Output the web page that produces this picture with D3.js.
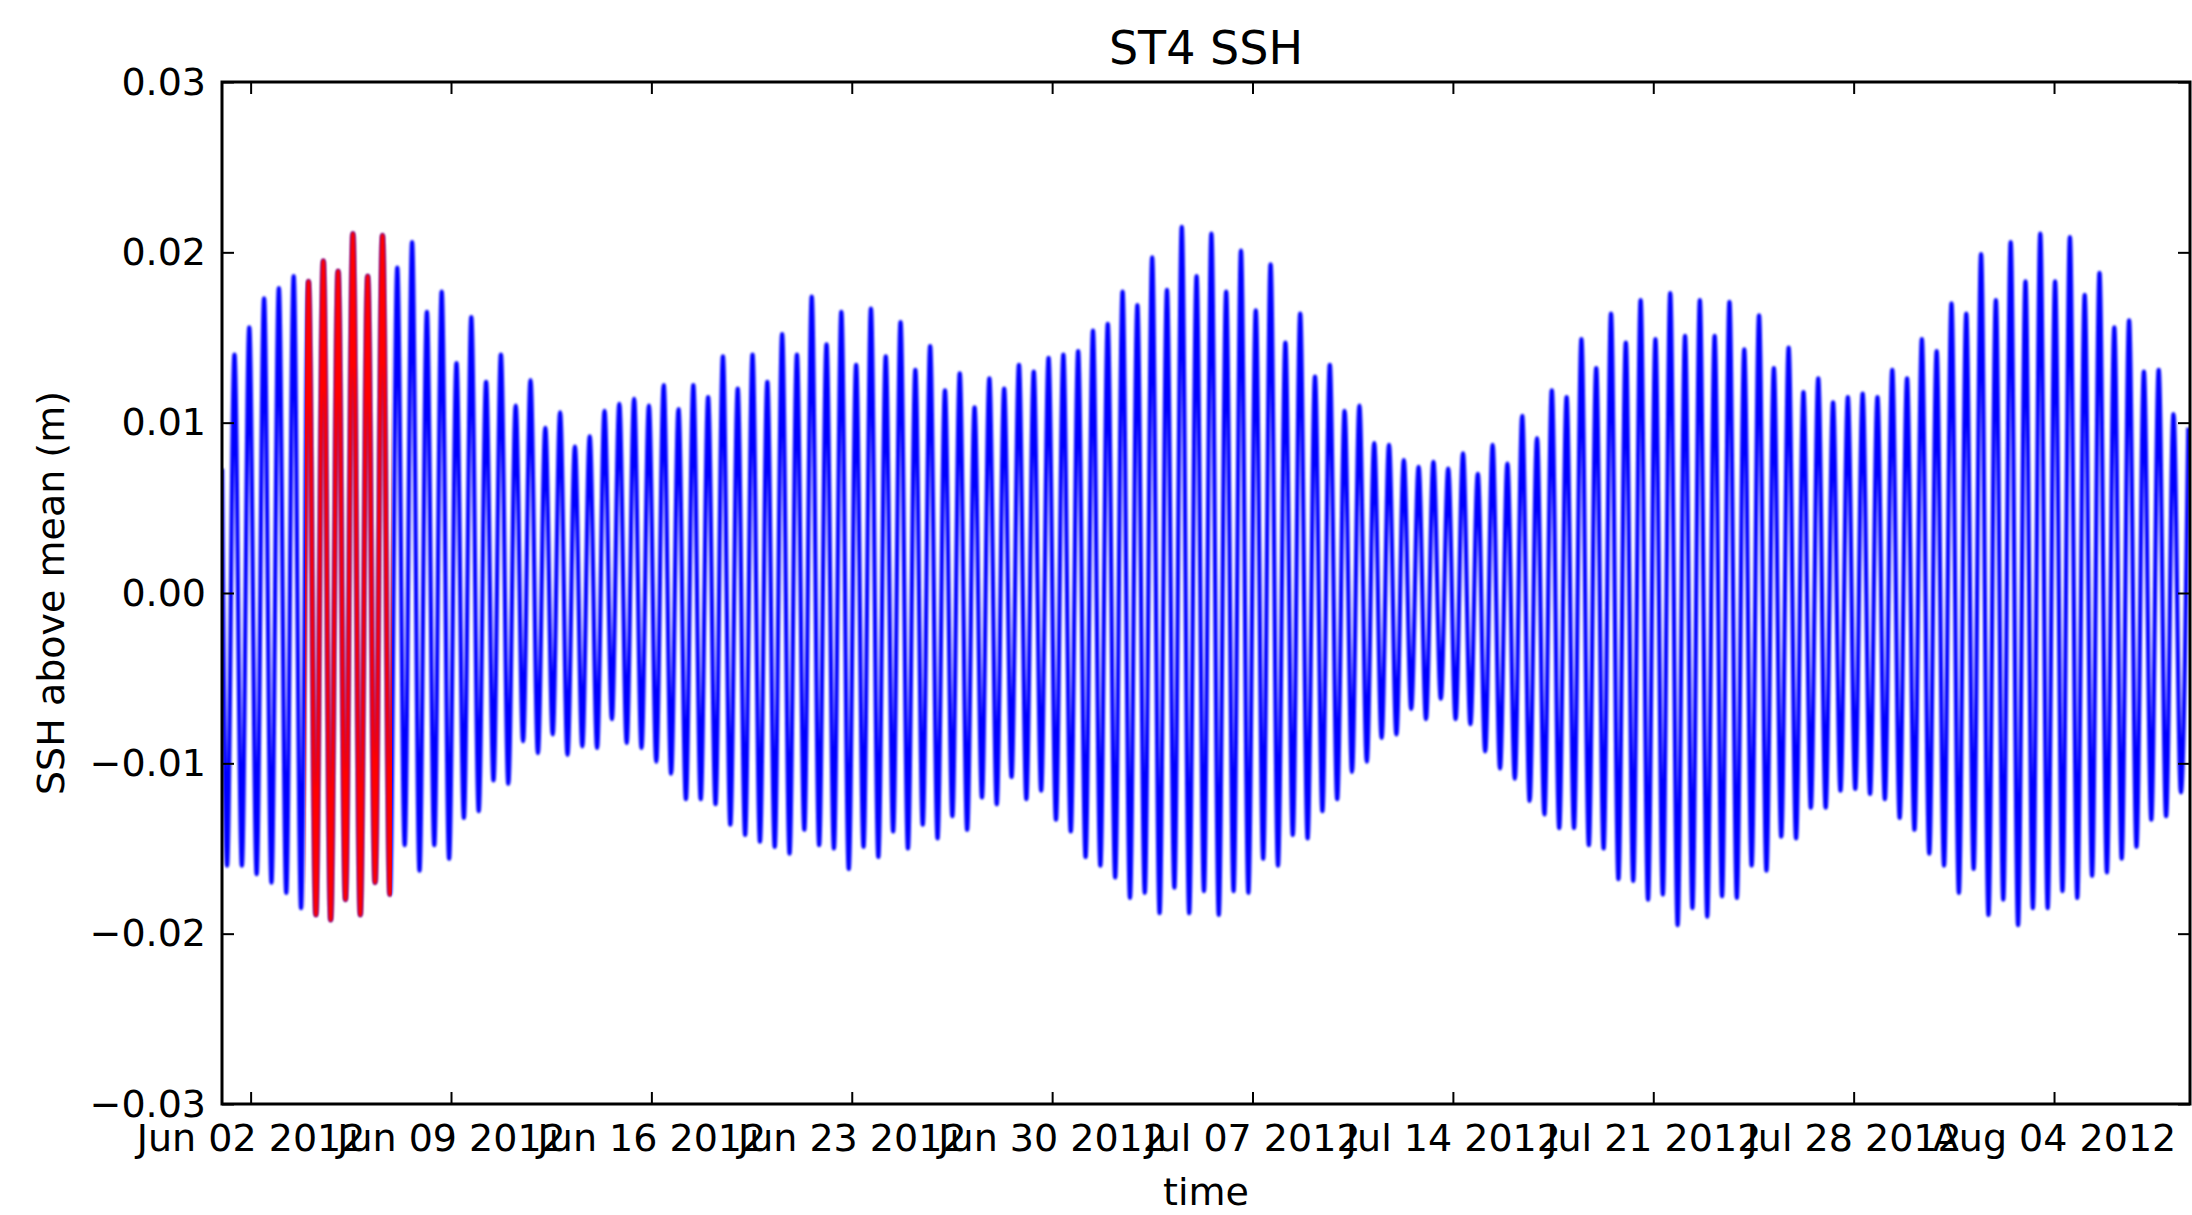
<!DOCTYPE html>
<html>
<head>
<meta charset="utf-8">
<script src="https://cdn.jsdelivr.net/npm/d3@7"></script>
<style>
  html, body { margin: 0; padding: 0; background: #ffffff; }
  svg { display: block; }
  text { font-family: "DejaVu Sans", sans-serif; fill: #000; }
</style>
</head>
<body>
<script>
// ---------------- data ----------------
const chartTitle = "ST4 SSH";
const xLabel = "time";
const yLabel = "SSH above mean (m)";

// time window of the axes
const timeStart = "2012-06-01T00:00:00Z";
const timeEnd   = "2012-08-08T18:00:00Z";

// weekly tick dates
const xTickDates = ["2012-06-02","2012-06-09","2012-06-16","2012-06-23","2012-06-30",
                    "2012-07-07","2012-07-14","2012-07-21","2012-07-28","2012-08-04"];
const yTickValues = [-0.03, -0.02, -0.01, 0.00, 0.01, 0.02, 0.03];

// first sample at the left edge, then alternating low / high water
const startValue = 0.0073;
const firstLowTime = "2012-06-01T04:15:00Z";
const tidalPeriodHours = 12.41;   // low-to-low spacing of the semidiurnal tide

const lowWater = [
  -0.0160,-0.0160,-0.0165,-0.0170,-0.0176,-0.0185,-0.0189,-0.0192,-0.0180,-0.0189,-0.0170,-0.0177,
  -0.0148,-0.0163,-0.0148,-0.0156,-0.0132,-0.0128,-0.0110,-0.0112,-0.0087,-0.0094,-0.0083,
  -0.0095,-0.0090,-0.0091,-0.0074,-0.0088,-0.0091,-0.0099,-0.0106,-0.0121,-0.0121,-0.0124,
  -0.0136,-0.0142,-0.0146,-0.0149,-0.0153,-0.0139,-0.0148,-0.0150,-0.0162,-0.0149,-0.0155,
  -0.0140,-0.0150,-0.0136,-0.0144,-0.0131,-0.0139,-0.0120,-0.0124,-0.0108,-0.0121,-0.0116,
  -0.0133,-0.0140,-0.0155,-0.0160,-0.0167,-0.0179,-0.0176,-0.0188,-0.0173,-0.0188,
  -0.0175,-0.0189,-0.0175,-0.0176,-0.0156,-0.0160,-0.0142,-0.0144,-0.0128,-0.0121,-0.0105,
  -0.0099,-0.0085,-0.0083,-0.0068,-0.0074,-0.0062,-0.0074,-0.0077,-0.0093,-0.0103,-0.0109,
  -0.0122,-0.0130,-0.0138,-0.0138,-0.0148,-0.0150,-0.0168,-0.0169,-0.0180,-0.0177,-0.0195,
  -0.0185,-0.0190,-0.0178,-0.0179,-0.0160,-0.0163,-0.0143,-0.0144,-0.0126,-0.0126,-0.0116,
  -0.0115,-0.0118,-0.0121,-0.0132,-0.0139,-0.0153,-0.0160,-0.0176,-0.0162,-0.0189,-0.0180,
  -0.0195,-0.0185,-0.0185,-0.0175,-0.0179,-0.0166,-0.0164,-0.0156,-0.0149,-0.0133,-0.0131,-0.0117
];
const highWater = [
  0.0140,0.0156,0.0173,0.0179,0.0186,0.0183,0.0195,0.0189,0.0211,0.0186,0.0210,0.0191,
  0.0206,0.0165,0.0177,0.0135,0.0162,0.0124,0.0140,0.0110,0.0125,0.0097,0.0106,
  0.0086,0.0092,0.0107,0.0111,0.0114,0.0110,0.0122,0.0108,0.0122,0.0115,0.0139,0.0120,
  0.0140,0.0124,0.0152,0.0140,0.0174,0.0146,0.0165,0.0134,0.0167,
  0.0139,0.0159,0.0131,0.0145,0.0119,0.0129,0.0109,0.0126,0.0120,0.0134,0.0130,0.0138,
  0.0140,0.0142,0.0154,0.0158,0.0177,0.0169,0.0197,0.0178,0.0215,0.0186,
  0.0211,0.0177,0.0201,0.0166,0.0193,0.0147,0.0164,0.0127,0.0134,0.0107,0.0110,0.0088,
  0.0087,0.0078,0.0074,0.0077,0.0073,0.0082,0.0070,0.0087,0.0076,
  0.0104,0.0091,0.0119,0.0115,0.0149,0.0132,0.0164,0.0147,0.0172,0.0149,0.0176,0.0151,
  0.0172,0.0151,0.0171,0.0143,0.0163,0.0132,0.0144,0.0118,0.0126,0.0112,
  0.0115,0.0117,0.0115,0.0131,0.0126,0.0149,0.0142,0.0170,0.0164,0.0199,0.0172,0.0206,
  0.0183,0.0211,0.0183,0.0209,0.0175,0.0188,0.0156,0.0160,0.0130,0.0131,0.0105,0.0097
];

// highlighted (red) window
const highlightStart = "2012-06-03T21:30:00Z";
const highlightEnd   = "2012-06-06T22:30:00Z";

// ---------------- build series ----------------
const HOUR = 3600 * 1000;
const series = [{ t: new Date(timeStart), v: startValue }];
const t0 = new Date(firstLowTime).getTime();
for (let i = 0; i < lowWater.length; i++) {
  series.push({ t: new Date(t0 + i * tidalPeriodHours * HOUR), v: lowWater[i] });
  series.push({ t: new Date(t0 + (i + 0.5) * tidalPeriodHours * HOUR), v: highWater[i] });
}

// ---------------- layout ----------------
const W = 2192, H = 1215;
const m = { left: 222, right: 2190, top: 82, bottom: 1104 };

const svg = d3.select("body").append("svg").attr("width", W).attr("height", H);
svg.append("rect").attr("width", W).attr("height", H).attr("fill", "#fff");

const x = d3.scaleUtc().domain([new Date(timeStart), new Date(timeEnd)]).range([m.left, m.right]);
const y = d3.scaleLinear().domain([-0.03, 0.03]).range([m.bottom, m.top]);

const defs = svg.append("defs");
defs.append("clipPath").attr("id", "plotClip").append("rect")
  .attr("x", m.left).attr("y", m.top).attr("width", m.right - m.left).attr("height", m.bottom - m.top);
defs.append("clipPath").attr("id", "hiClip").append("rect")
  .attr("x", x(new Date(highlightStart))).attr("y", m.top)
  .attr("width", x(new Date(highlightEnd)) - x(new Date(highlightStart)))
  .attr("height", m.bottom - m.top);
defs.append("filter").attr("id", "soft").attr("x", "-5%").attr("y", "-5%").attr("width", "110%").attr("height", "110%")
  .append("feGaussianBlur").attr("stdDeviation", 0.9);

const line = d3.line().x(d => x(d.t)).y(d => y(d.v)).curve(d3.curveMonotoneX);

const plotG = svg.append("g").attr("clip-path", "url(#plotClip)");
plotG.append("path").datum(series)
  .attr("d", line).attr("fill", "none").attr("stroke", "#0000ff")
  .attr("stroke-width", 4.2).attr("stroke-linejoin", "round")
  .attr("filter", "url(#soft)");

svg.append("g").attr("clip-path", "url(#hiClip)")
  .append("path").datum(series)
  .attr("d", line).attr("fill", "none").attr("stroke", "#ff0000")
  .attr("stroke-width", 4.2).attr("stroke-linejoin", "round")
  .attr("filter", "url(#soft)");

// ---------------- axes ----------------
const tickLen = 12;
const xTicks = xTickDates.map(s => new Date(s + "T00:00:00Z"));
const fmtX = d3.utcFormat("%b %d %Y");
const fmtY = v => (Math.abs(v) < 1e-9 ? "0.00" : d3.format(".2f")(v).replace("-", "\u2212"));

function styleAxis(g) {
  g.select(".domain").remove();
  g.selectAll(".tick line").attr("stroke", "#000").attr("stroke-width", 2);
  g.selectAll(".tick text").attr("font-size", 38).attr("font-family", "DejaVu Sans").attr("fill", "#000");
}

svg.append("g").attr("transform", `translate(0,${m.bottom})`)
  .call(d3.axisBottom(x).tickValues(xTicks).tickFormat(fmtX).tickSizeInner(-tickLen).tickSizeOuter(0).tickPadding(20))
  .call(styleAxis);
svg.append("g").attr("transform", `translate(0,${m.top})`)
  .call(d3.axisTop(x).tickValues(xTicks).tickFormat("").tickSizeInner(-tickLen).tickSizeOuter(0))
  .call(styleAxis);
svg.append("g").attr("transform", `translate(${m.left},0)`)
  .call(d3.axisLeft(y).tickValues(yTickValues).tickFormat(fmtY).tickSizeInner(-tickLen).tickSizeOuter(0).tickPadding(16))
  .call(styleAxis);
svg.append("g").attr("transform", `translate(${m.right},0)`)
  .call(d3.axisRight(y).tickValues(yTickValues).tickFormat("").tickSizeInner(-tickLen).tickSizeOuter(0))
  .call(styleAxis);

// frame
svg.append("rect").attr("x", m.left).attr("y", m.top)
  .attr("width", m.right - m.left).attr("height", m.bottom - m.top)
  .attr("fill", "none").attr("stroke", "#000").attr("stroke-width", 3);

// ---------------- labels ----------------
const cx = (m.left + m.right) / 2;
svg.append("text").attr("x", cx).attr("y", 64).attr("text-anchor", "middle")
  .attr("font-size", 46).text(chartTitle);
svg.append("text").attr("x", cx).attr("y", 1205).attr("text-anchor", "middle")
  .attr("font-size", 38).text(xLabel);
svg.append("text").attr("transform", `translate(64,${(m.top + m.bottom) / 2}) rotate(-90)`)
  .attr("text-anchor", "middle").attr("font-size", 38).text(yLabel);
</script>
</body>
</html>
